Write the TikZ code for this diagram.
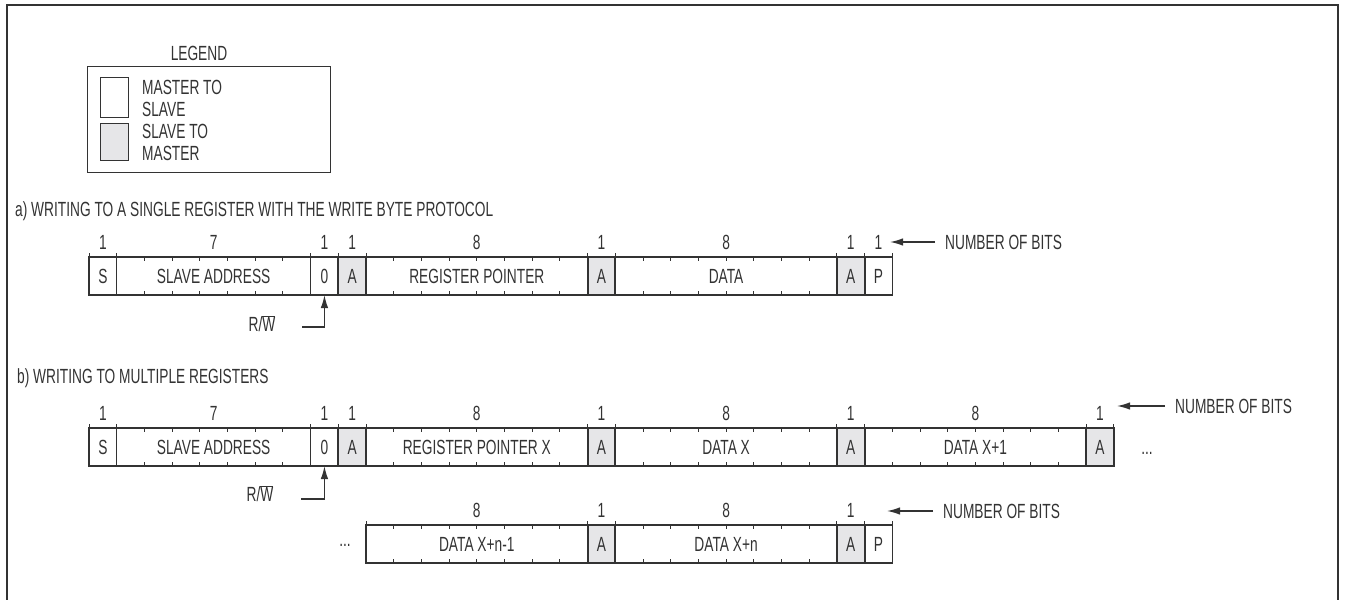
\documentclass[tikz,border=0pt]{standalone}
\usepackage{fontspec}
\setmainfont{Liberation Sans}[FakeStretch=0.67]
\usepackage{tikz}
\usetikzlibrary{arrows.meta, calc, positioning}
\definecolor{linie}{HTML}{333333}
\definecolor{grau}{HTML}{E6E6E8}
\newlength{\bw}\setlength{\bw}{27.7pt}
\newcommand{\fieldfont}{\fontsize{20.5}{22}\selectfont}
% kleine Bit-Striche oben und unten
\newcommand{\bitticks}[2]{%
  \foreach \k in {1,...,#2}{%
    \draw[tick] ([xshift=\k\bw]#1.north west) -- ++(0,4);
    \draw[tick] ([xshift=\k\bw]#1.south west) -- ++(0,-4);
  }}

\begin{document}
\begin{tikzpicture}[x=1pt, y=-1pt,
    txt/.style={text=linie, font=\fieldfont, inner sep=2pt},
    fld/.style={draw=linie, line width=1.2pt, minimum height=38pt, inner sep=0pt,
                outer sep=0pt, text=linie, font=\fieldfont},
    ack/.style={fld, fill=grau, line width=1.8pt},
    bits/.style={minimum width=#1\bw},
    num/.style={txt},
    tick/.style={draw=linie, line width=1pt},
    swatch/.style={draw=linie, line width=1.2pt, minimum width=28pt, inner sep=0pt,
                   anchor=north west},
    ptr/.style={draw=linie, line width=1.4pt, -{Latex[length=13pt,width=7.5pt]}}]

  \useasboundingbox (0,0) rectangle (1345,600);

  % Rahmen
  \draw[linie, line width=2pt] (7,610) -- (7,5) -- (1338,5) -- (1338,610);

  % Legende
  \node[txt] (legT) at (199,53) {LEGEND};
  \node[draw=linie, line width=1.2pt, minimum width=243pt, minimum height=106pt,
        inner sep=0pt, anchor=north west] (leg) at (87,66) {};
  \node[swatch, minimum height=40pt] (legM) at (100,77) {};
  \node[swatch, minimum height=37pt, fill=grau] (legS) at (100,123) {};
  \node[txt, anchor=west, align=left] (legMt) at (140,98) {MASTER TO\\SLAVE};
  \node[txt, anchor=west, align=left] (legSt) at (140,142) {SLAVE TO\\MASTER};

  % a) einzelnes Register
  \node[txt, anchor=west] (aTitle) at (13,211)
    {a) WRITING TO A SINGLE REGISTER WITH THE WRITE BYTE PROTOCOL};
  \node[fld, bits=1, anchor=west] (aS) at (89,276) {S};
  \node[fld, bits=7, right=0pt of aS] (aAddr) {SLAVE ADDRESS};
  \node[fld, bits=1, right=0pt of aAddr] (a0) {0};
  \node[ack, bits=1, right=0pt of a0] (aA1) {A};
  \node[fld, bits=8, right=0pt of aA1] (aReg) {REGISTER POINTER};
  \node[ack, bits=1, right=0pt of aReg] (aA2) {A};
  \node[fld, bits=8, right=0pt of aA2] (aData) {DATA};
  \node[ack, bits=1, right=0pt of aData] (aA3) {A};
  \node[fld, bits=1, right=0pt of aA3] (aP) {P};
  \bitticks{aAddr}{6}
  \bitticks{aReg}{7}
  \bitticks{aData}{7}
  \foreach \f in {aS,aAddr,a0,aA1,aReg,aA2,aData,aA3,aP}
    \draw[tick] (\f.north west) -- ++(0,-4);
  \draw[tick] (aP.north east) -- ++(0,-4);
  \foreach \f/\n in {aS/1,aAddr/7,a0/1,aA1/1,aReg/8,aA2/1,aData/8,aA3/1,aP/1}
    \node[num] (\f-n) at ([yshift=15pt]\f.north) {\n};

  \node[txt, anchor=west] (aBits) at (943,242) {NUMBER OF BITS};
  \coordinate (aTip) at (890,242);
  \draw[ptr, shorten <=8pt] (aBits.west) -- (aTip);

  \node[txt] (aRW) at (262,324) {R/$\overline{\hbox{W}}$};
  \coordinate (aRWe) at (302,327);
  \draw[ptr] (aRWe) -| (a0.south);

  % b) mehrere Register
  \node[txt, anchor=west] (bTitle) at (15,378) {b) WRITING TO MULTIPLE REGISTERS};
  \node[fld, bits=1, anchor=west] (bS) at (89,447) {S};
  \node[fld, bits=7, right=0pt of bS] (bAddr) {SLAVE ADDRESS};
  \node[fld, bits=1, right=0pt of bAddr] (b0) {0};
  \node[ack, bits=1, right=0pt of b0] (bA1) {A};
  \node[fld, bits=8, right=0pt of bA1] (bReg) {REGISTER POINTER X};
  \node[ack, bits=1, right=0pt of bReg] (bA2) {A};
  \node[fld, bits=8, right=0pt of bA2] (bData) {DATA X};
  \node[ack, bits=1, right=0pt of bData] (bA3) {A};
  \node[fld, bits=8, right=0pt of bA3] (bNext) {DATA X+1};
  \node[ack, bits=1, right=0pt of bNext] (bA4) {A};
  \bitticks{bAddr}{6}
  \bitticks{bReg}{7}
  \bitticks{bData}{7}
  \bitticks{bNext}{7}
  \foreach \f in {bS,bAddr,b0,bA1,bReg,bA2,bData,bA3,bNext,bA4}
    \draw[tick] (\f.north west) -- ++(0,-4);
  \draw[tick] (bA4.north east) -- ++(0,-4);
  \foreach \f/\n in {bS/1,bAddr/7,b0/1,bA1/1,bReg/8,bA2/1,bData/8,bA3/1,bNext/8,bA4/1}
    \node[num] (\f-n) at ([yshift=15pt]\f.north) {\n};
  \node[txt] (bDots) at (1147,453) {...};

  \node[txt, anchor=west] (bBits) at (1173,406) {NUMBER OF BITS};
  \coordinate (bTip) at (1117,406);
  \draw[ptr, shorten <=8pt] (bBits.west) -- (bTip);

  \node[txt] (bRW) at (260,494) {R/$\overline{\hbox{W}}$};
  \coordinate (bRWe) at (301,499);
  \draw[ptr] (bRWe) -| (b0.south);

  % Fortsetzung
  \node[fld, bits=8, anchor=west] (cPrev) at (366,544) {DATA X+n-1};
  \node[ack, bits=1, right=0pt of cPrev] (cA1) {A};
  \node[fld, bits=8, right=0pt of cA1] (cLast) {DATA X+n};
  \node[ack, bits=1, right=0pt of cLast] (cA2) {A};
  \node[fld, bits=1, right=0pt of cA2] (cP) {P};
  \bitticks{cPrev}{7}
  \bitticks{cLast}{7}
  \foreach \f in {cPrev,cA1,cLast,cA2,cP}
    \draw[tick] (\f.north west) -- ++(0,-4);
  \draw[tick] (cP.north east) -- ++(0,-4);
  \foreach \f/\n in {cPrev/8,cA1/1,cLast/8,cA2/1}
    \node[num] (\f-n) at ([yshift=15pt]\f.north) {\n};
  \node[txt] (cDots) at (345,545) {...};

  \node[txt, anchor=west] (cBits) at (941,511) {NUMBER OF BITS};
  \coordinate (cTip) at (887,511);
  \draw[ptr, shorten <=8pt] (cBits.west) -- (cTip);
\end{tikzpicture}
\end{document}
